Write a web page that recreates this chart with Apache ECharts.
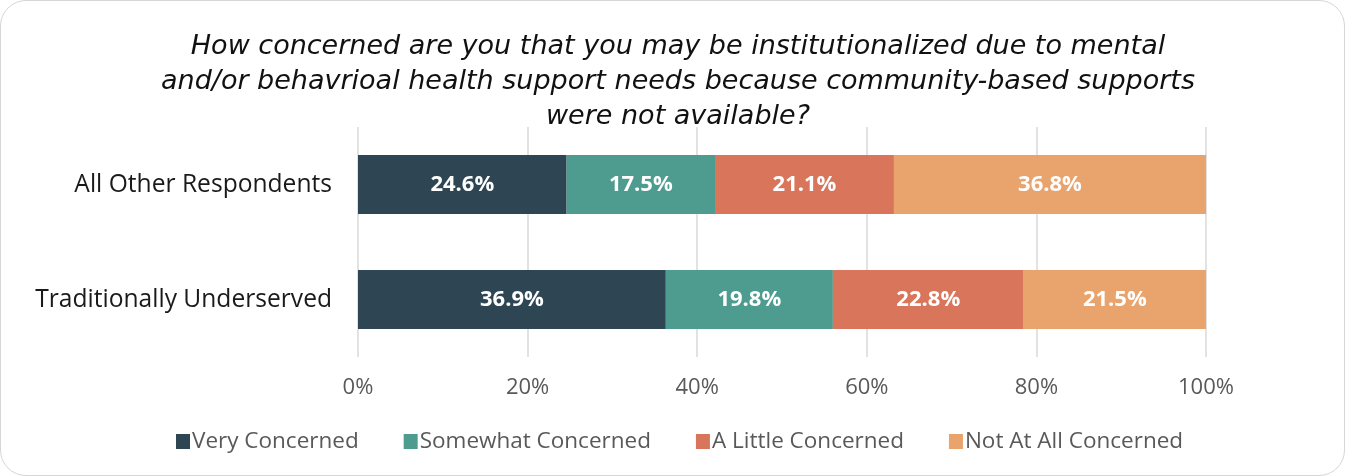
<!DOCTYPE html>
<html>
<head>
<meta charset="utf-8">
<script src="https://cdn.jsdelivr.net/npm/echarts@6/dist/echarts.min.js"></script>
<style>
html,body{margin:0;padding:0;background:#fff;}
#wrap{position:absolute;left:0;top:0;width:1345px;height:476px;box-sizing:border-box;border:1.5px solid #d6d6d6;border-radius:26px;overflow:hidden;background:#fff;}
#chart{position:absolute;left:0;top:0;width:1345px;height:476px;}
</style>
</head>
<body>
<div id="wrap"></div>
<div id="chart"></div>
<script>
const titleText = "How concerned are you that you may be institutionalized due to mental\nand/or behavrioal health support needs because community-based supports\nwere not available?";
const categories = ["All Other Respondents", "Traditionally Underserved"];
const seriesNames = ["Very Concerned", "Somewhat Concerned", "A Little Concerned", "Not At All Concerned"];
const colors = ["#2E4653", "#4E9B8F", "#D9755A", "#E9A46D"];
// bar lengths as drawn (percent of total)
const veryConcerned = [24.6, 36.3];
const somewhatConcerned = [17.5, 19.7];
const aLittleConcerned = [21.1, 22.5];
const notAtAllConcerned = [36.8, 21.5];
// printed data labels
const veryLabels = ["24.6%", "36.9%"];
const somewhatLabels = ["17.5%", "19.8%"];
const littleLabels = ["21.1%", "22.8%"];
const notAtAllLabels = ["36.8%", "21.5%"];
const xTicks = [0, 20, 40, 60, 80, 100];

const values = [veryConcerned, somewhatConcerned, aLittleConcerned, notAtAllConcerned];
const labels = [veryLabels, somewhatLabels, littleLabels, notAtAllLabels];
const FONT = "'Open Sans', 'Liberation Sans', sans-serif";

const chart = echarts.init(document.getElementById('chart'), null, {renderer: 'canvas'});
chart.setOption({
  backgroundColor: 'transparent',
  animation: false,
  title: {
    text: titleText,
    left: 673,
    top: 24,
    textAlign: 'center',
    textStyle: {fontFamily: "'DejaVu Sans', sans-serif", fontSize: 27, fontStyle: 'italic', fontWeight: 'normal', color: '#111', lineHeight: 35}
  },
  legend: {
    data: seriesNames,
    left: 171,
    top: 425,
    itemWidth: 14,
    itemHeight: 15,
    itemGap: 45,
    icon: 'rect',
    textStyle: {fontFamily: FONT, fontSize: 22.5, color: '#595959', padding: [0, 0, 0, -3]}
  },
  grid: {left: 358, right: 139, top: 127, bottom: 119, containLabel: false},
  xAxis: {
    type: 'value',
    min: xTicks[0],
    max: xTicks[xTicks.length - 1],
    interval: 20,
    axisLine: {show: false},
    axisTick: {show: false},
    splitLine: {show: true, lineStyle: {color: '#d9d9d9', width: 1.5}},
    axisLabel: {formatter: '{value}%', fontFamily: FONT, fontSize: 22, color: '#595959', margin: 20}
  },
  yAxis: {
    type: 'category',
    inverse: true,
    data: categories,
    axisLine: {show: false},
    axisTick: {show: false},
    axisLabel: {fontFamily: FONT, fontSize: 24.6, color: '#1a1a1a', margin: 26}
  },
  series: seriesNames.map((name, si) => ({
    name: name,
    type: 'bar',
    stack: 'total',
    barWidth: 59,
    data: values[si],
    itemStyle: {color: colors[si]},
    label: {
      show: true,
      position: 'inside',
      formatter: p => labels[si][p.dataIndex],
      fontFamily: FONT,
      fontSize: 22,
      fontWeight: 'bold',
      color: '#ffffff'
    }
  }))
});
</script>
</body>
</html>
